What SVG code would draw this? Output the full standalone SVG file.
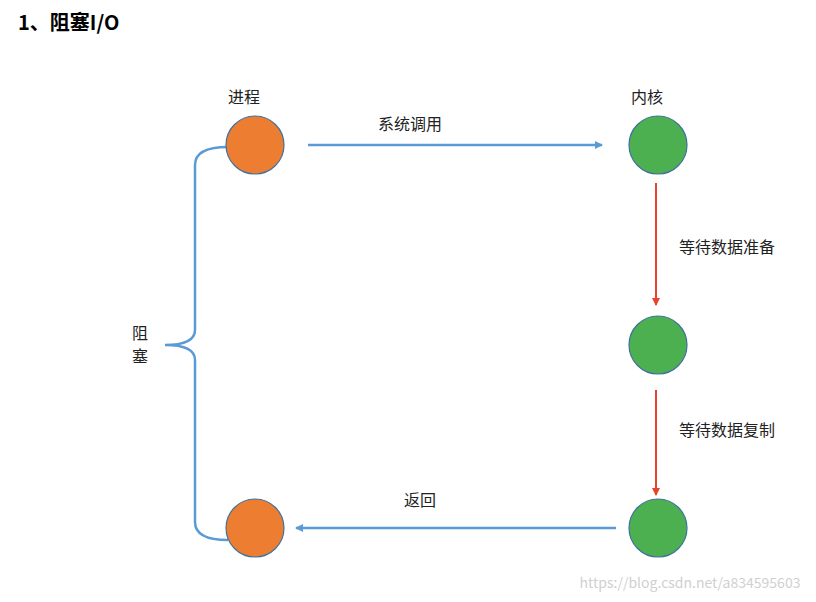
<svg xmlns="http://www.w3.org/2000/svg" width="816" height="602" viewBox="0 0 816 602">
<style>
text{font-family:"Noto Sans CJK SC","Liberation Sans",sans-serif;font-size:16px;fill:#222}
.o{fill:#ED7D31;stroke:#41719C;stroke-width:1.2}
.g{fill:#4CAF50;stroke:#41719C;stroke-width:1.2}
.b{stroke:#5B9BD5;stroke-width:2.5;fill:none}
.r{stroke:#E8412E;stroke-width:2;fill:none}
</style>
<defs>
<marker id="ab" markerWidth="8" markerHeight="8" refX="7" refY="4" orient="auto" markerUnits="userSpaceOnUse"><path d="M0,0L8,4L0,8z" fill="#5B9BD5"/></marker>
<marker id="ar" markerWidth="8" markerHeight="8" refX="7" refY="4" orient="auto" markerUnits="userSpaceOnUse"><path d="M0,0L8,4L0,8z" fill="#E8412E"/></marker>
</defs>
<rect width="816" height="602" fill="#fff"/>
<text x="18" y="30" style="font-size:20px;font-weight:bold;fill:#000">1、阻塞I/O</text>
<g id="connectors">
<path class="b" d="M308,145H602" marker-end="url(#ab)"/>
<path class="r" d="M656,183V305" marker-end="url(#ar)"/>
<path class="r" d="M656,390V495" marker-end="url(#ar)"/>
<path class="b" d="M616,528H296" marker-end="url(#ab)"/>
<path class="b" d="M228,147Q195,147 195,165V330Q195,345 165,345Q195,345 195,360V522Q195,540 228,540"/>
</g>
<g id="p1"><circle class="o" cx="255" cy="145" r="29"/><text x="244" y="103" text-anchor="middle">进程</text></g>
<g id="k1"><circle class="g" cx="658" cy="145" r="29"/><text x="647" y="103" text-anchor="middle">内核</text></g>
<g id="k2"><circle class="g" cx="658" cy="345" r="29"/></g>
<g id="k3"><circle class="g" cx="658" cy="528" r="29"/></g>
<g id="p2"><circle class="o" cx="255" cy="528" r="29"/></g>
<text x="410" y="130" text-anchor="middle">系统调用</text>
<text x="727" y="253" text-anchor="middle">等待数据准备</text>
<text x="727" y="436" text-anchor="middle">等待数据复制</text>
<text x="420" y="506" text-anchor="middle">返回</text>
<text x="140" y="339" text-anchor="middle">阻</text>
<text x="140" y="362" text-anchor="middle">塞</text>
<text x="690" y="588" text-anchor="middle" style="font-size:14px;fill:#d0d0d0">https://blog.csdn.net/a834595603</text>
</svg>
